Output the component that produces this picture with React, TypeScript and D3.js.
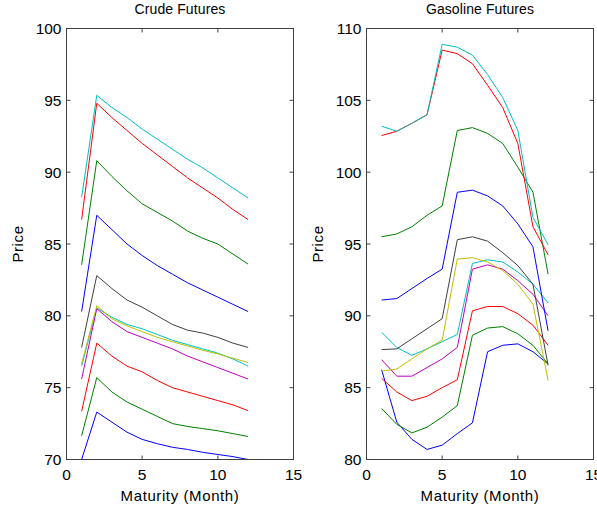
import React from "react";
import * as d3 from "d3";

const months = [1, 2, 3, 4, 5, 6, 7, 8, 9, 10, 11, 12];
const seriesColors = ["#0000ff", "#008000", "#ff0000", "#00bfbf", "#bf00bf", "#bfbf00", "#404040", "#0000ff", "#008000", "#ff0000", "#00bfbf"];

const crude01 = [70.0, 73.3, 72.6, 71.9, 71.4, 71.1, 70.85, 70.7, 70.5, 70.35, 70.2, 70.0];
const crude02 = [71.65, 75.7, 74.7, 74.0, 73.5, 73.0, 72.5, 72.3, 72.15, 72.0, 71.8, 71.6];
const crude03 = [73.35, 78.1, 77.2, 76.5, 76.1, 75.5, 75.0, 74.7, 74.4, 74.1, 73.8, 73.4];
const crude04 = [76.5, 80.55, 79.9, 79.4, 79.1, 78.7, 78.3, 78.0, 77.7, 77.4, 77.0, 76.5];
const crude05 = [75.6, 80.5, 79.6, 78.9, 78.5, 78.1, 77.7, 77.2, 76.8, 76.4, 76.0, 75.6];
const crude06 = [76.65, 80.7, 79.8, 79.3, 78.9, 78.5, 78.2, 77.9, 77.6, 77.35, 77.05, 76.75];
const crude07 = [77.8, 82.8, 81.9, 81.1, 80.6, 80.0, 79.4, 79.0, 78.8, 78.5, 78.1, 77.8];
const crude08 = [80.3, 87.0, 86.0, 85.0, 84.2, 83.5, 82.9, 82.3, 81.8, 81.3, 80.8, 80.3];
const crude09 = [83.55, 90.8, 89.7, 88.7, 87.8, 87.2, 86.6, 85.9, 85.4, 85.0, 84.3, 83.6];
const crude10 = [86.7, 94.8, 93.8, 92.9, 92.0, 91.2, 90.4, 89.6, 88.9, 88.2, 87.4, 86.7];
const crude11 = [88.25, 95.35, 94.5, 93.8, 93.0, 92.3, 91.6, 90.9, 90.3, 89.6, 88.9, 88.2];

const gas01 = [86.25, 82.6, 81.4, 80.7, 81.0, 81.8, 82.55, 87.5, 87.95, 88.05, 87.5, 86.65];
const gas02 = [83.55, 82.45, 81.85, 82.25, 82.95, 83.75, 88.65, 89.15, 89.25, 88.75, 87.95, 86.65];
const gas03 = [85.65, 84.7, 84.1, 84.4, 85.0, 85.55, 90.35, 90.65, 90.65, 90.15, 89.35, 87.95];
const gas04 = [88.85, 87.8, 87.25, 87.7, 88.2, 88.7, 93.65, 93.9, 93.75, 93.05, 92.2, 90.9];
const gas05 = [86.95, 85.8, 85.8, 86.4, 87.0, 87.8, 93.25, 93.55, 93.25, 92.45, 91.5, 90.0];
const gas06 = [86.15, 86.3, 87.0, 87.7, 88.3, 93.95, 94.05, 93.75, 93.15, 92.2, 90.8, 85.5];
const gas07 = [87.65, 87.7, 88.4, 89.1, 89.8, 95.3, 95.5, 95.2, 94.4, 93.5, 92.2, 86.55];
const gas08 = [91.1, 91.2, 91.9, 92.6, 93.25, 98.6, 98.75, 98.35, 97.65, 96.4, 94.8, 88.95];
const gas09 = [95.5, 95.7, 96.2, 97.0, 97.65, 102.9, 103.1, 102.7, 102.0, 100.35, 98.6, 92.9];
const gas10 = [102.55, 102.85, 103.4, 104.0, 108.5, 108.25, 107.55, 106.05, 104.5, 102.0, 96.2, 94.25];
const gas11 = [103.2, 102.85, 103.4, 104.0, 108.9, 108.7, 108.15, 106.8, 105.2, 102.9, 96.85, 94.95];

const crudeSeries = [crude01, crude02, crude03, crude04, crude05, crude06, crude07, crude08, crude09, crude10, crude11];
const gasSeries = [gas01, gas02, gas03, gas04, gas05, gas06, gas07, gas08, gas09, gas10, gas11];

const xTicks = [0, 5, 10, 15];
const crudeYTicks = [70, 75, 80, 85, 90, 95, 100];
const gasYTicks = [80, 85, 90, 95, 100, 105, 110];

const FONT = "'Liberation Sans', Arial, sans-serif";
const AXIS = "#404040";

type PanelProps = {
  left: number;
  right: number;
  top: number;
  bottom: number;
  title: string;
  series: number[][];
  yDomain: [number, number];
  yTicks: number[];
};

function Panel({ left, right, top, bottom, title, series, yDomain, yTicks }: PanelProps) {
  const x = d3.scaleLinear().domain([0, 15]).range([left, right]);
  const y = d3.scaleLinear().domain(yDomain).range([bottom, top]);
  const line = d3
    .line<number>()
    .x((_, i) => x(months[i]))
    .y((d) => y(d));
  const tl = 4;
  return (
    <g>
      <g>
        {series.map((s, i) => (
          <path key={i} d={line(s) || ""} fill="none" stroke={seriesColors[i]} strokeWidth={1} />
        ))}
      </g>
      <rect x={left} y={top} width={right - left} height={bottom - top} fill="none" stroke={AXIS} strokeWidth={1} />
      {xTicks.map((t) => (
        <g key={"x" + t}>
          <line x1={x(t)} x2={x(t)} y1={bottom} y2={bottom - tl} stroke={AXIS} />
          <line x1={x(t)} x2={x(t)} y1={top} y2={top + tl} stroke={AXIS} />
          <text x={x(t)} y={bottom + 20} textAnchor="middle" fontSize={15.5} fontFamily={FONT} fill="#000">
            {t}
          </text>
        </g>
      ))}
      {yTicks.map((t) => (
        <g key={"y" + t}>
          <line x1={left} x2={left + tl} y1={y(t)} y2={y(t)} stroke={AXIS} />
          <line x1={right} x2={right - tl} y1={y(t)} y2={y(t)} stroke={AXIS} />
          <text x={left - 5} y={y(t) + 5.5} textAnchor="end" fontSize={15.5} fontFamily={FONT} fill="#000">
            {t}
          </text>
        </g>
      ))}
      <text x={(left + right) / 2} y={14} textAnchor="middle" fontSize={14} letterSpacing={0.1} fontFamily={FONT} fill="#000">
        {title}
      </text>
      <text x={(left + right) / 2} y={501} textAnchor="middle" fontSize={15} letterSpacing={0.6} fontFamily={FONT} fill="#000">
        Maturity (Month)
      </text>
      <text
        transform={`translate(${left - 43.5},${(top + bottom) / 2}) rotate(-90)`}
        textAnchor="middle"
        fontSize={15}
        letterSpacing={0.6}
        fontFamily={FONT}
        fill="#000"
      >
        Price
      </text>
    </g>
  );
}

export default function App() {
  return (
    <svg
      width={597}
      height={512}
      style={{ position: "absolute", left: 0, top: 0, background: "#fff" }}
    >
      <rect x={0} y={0} width={597} height={512} fill="#fff" />
      <Panel left={66.5} right={293.5} top={28.5} bottom={459.5} title="Crude Futures" series={crudeSeries} yDomain={[70, 100]} yTicks={crudeYTicks} />
      <Panel left={366.5} right={593.5} top={28.5} bottom={459.5} title="Gasoline Futures" series={gasSeries} yDomain={[80, 110]} yTicks={gasYTicks} />
    </svg>
  );
}
